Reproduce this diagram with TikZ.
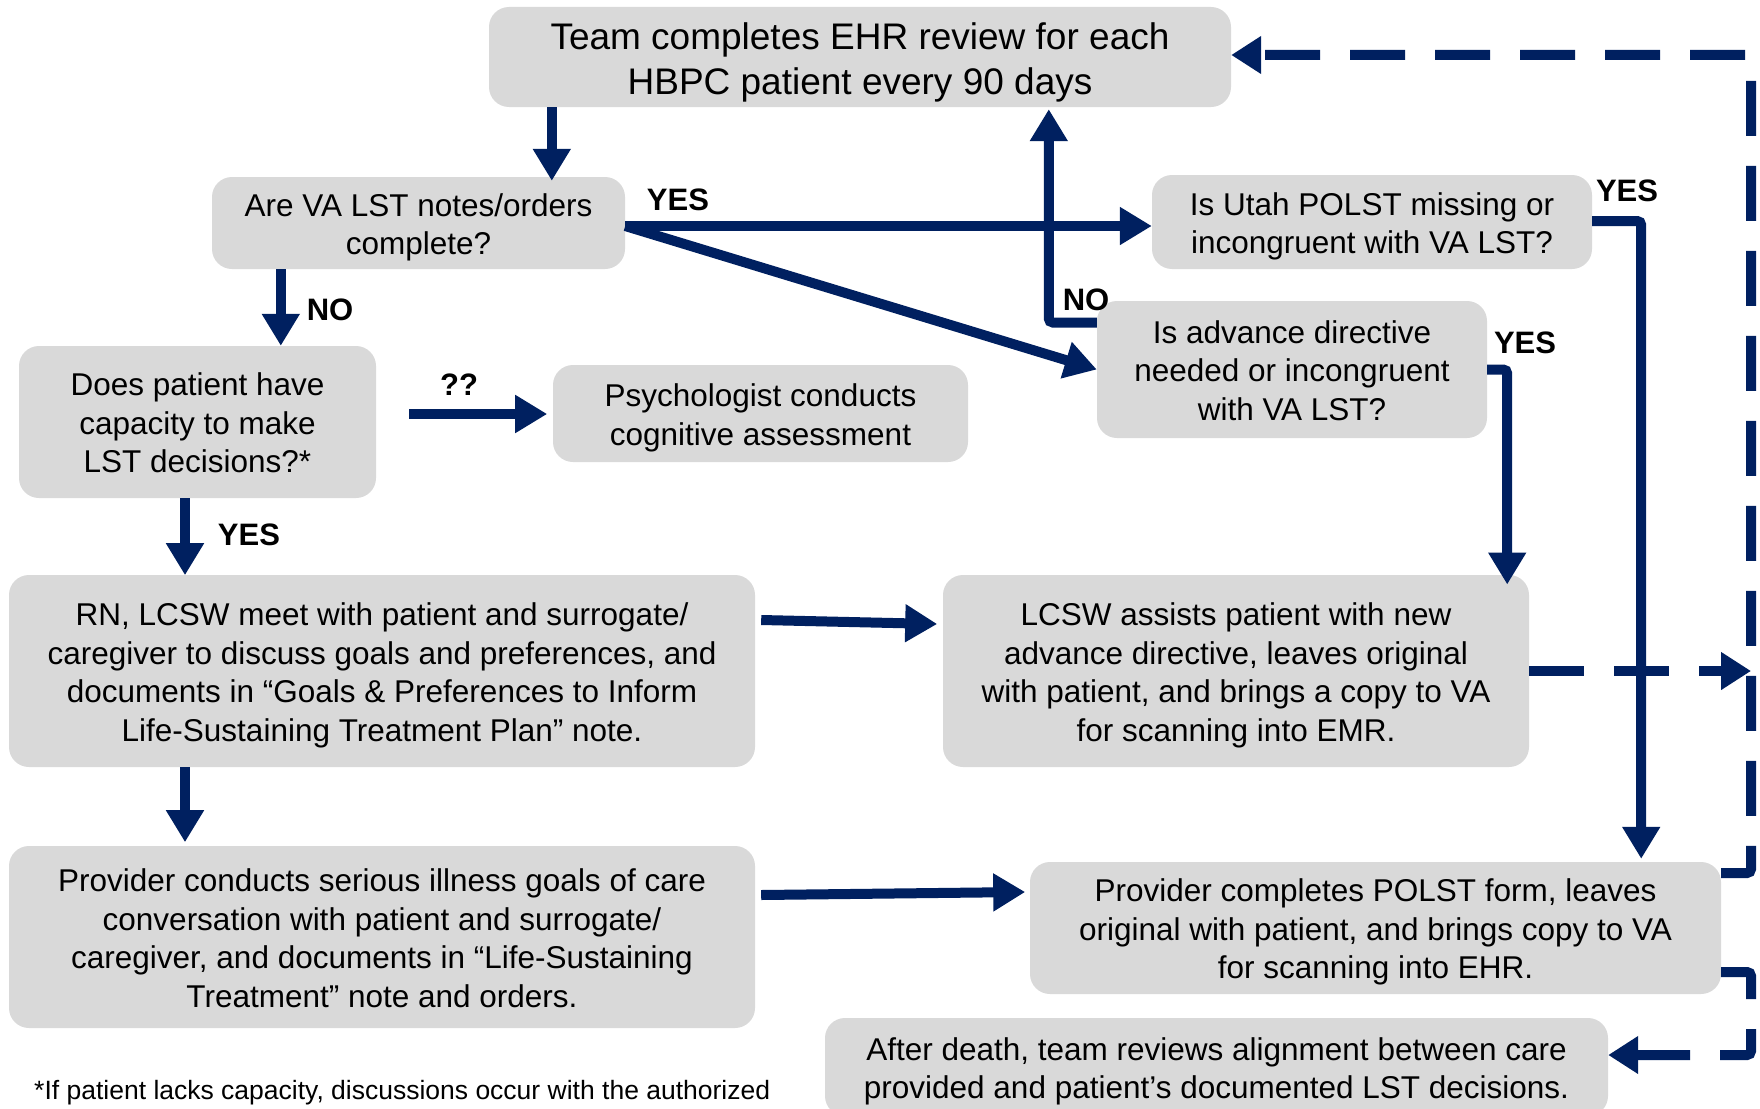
\documentclass[tikz,border=0pt]{standalone}
\usepackage{fontspec}
\setmainfont{Liberation Sans}
\usetikzlibrary{arrows.meta}
\definecolor{navy}{HTML}{002060}
\definecolor{boxgray}{HTML}{D9D9D9}
\newcommand\mytopst{\rule{0pt}{1em}}
\newcommand\mybotst{\rule[-0.21em]{0pt}{0pt}}
\tikzset{
  box/.style={fill=boxgray, rounded corners=20pt, inner sep=0pt, align=center,
    font=\fontsize{31.5}{38.5}\selectfont},
  arr/.style={draw=navy, line width=10pt, -{Triangle[width=36pt,length=32pt]}, rounded corners=4pt},
  darr/.style={draw=navy, line width=10pt, dash pattern=on 55pt off 30pt, -{Triangle[width=36pt,length=30pt]}, rounded corners=4pt},
  lbl/.style={font=\fontsize{31}{36}\selectfont\bfseries, inner sep=0pt},
}
\begin{document}
\begin{tikzpicture}[x=1pt, y=-1pt]
\useasboundingbox (0,0) rectangle (1760,1108);
\fill[white] (0,0) rectangle (1760,1108);
% boxes
\node[box, minimum width=742pt, minimum height=100pt, font=\fontsize{37}{45}\selectfont] (b1) at (860,57) {\mytopst Team completes EHR review for each\\HBPC patient every 90 days\mybotst};
\node[box, minimum width=413pt, minimum height=92pt] (b2) at (418.5,223) {\mytopst Are VA LST notes/orders\\complete?\mybotst};
\node[box, minimum width=440pt, minimum height=94pt] (b3) at (1372,222) {\mytopst Is Utah POLST missing or\\incongruent with VA LST?\mybotst};
\node[box, minimum width=357pt, minimum height=152pt] (b4) at (197.5,422) {\mytopst Does patient have\\capacity to make\\LST decisions?*\mybotst};
\node[box, minimum width=415pt, minimum height=97pt] (b5) at (760.5,413.5) {\mytopst Psychologist conducts\\cognitive assessment\mybotst};
\node[box, minimum width=390pt, minimum height=137pt] (b6) at (1292,369.5) {\mytopst Is advance directive\\needed or incongruent\\with VA LST?\mybotst};
\node[box, minimum width=746pt, minimum height=192pt] (b7) at (382,671) {\mytopst RN, LCSW meet with patient and surrogate/\\caregiver to discuss goals and preferences, and\\documents in “Goals \& Preferences to Inform\\Life-Sustaining Treatment Plan” note.\mybotst};
\node[box, minimum width=586pt, minimum height=192pt] (b8) at (1236,671) {\mytopst LCSW assists patient with new\\advance directive, leaves original\\with patient, and brings a copy to VA\\for scanning into EMR.\mybotst};
\node[box, minimum width=746pt, minimum height=182pt] (b9) at (382,937) {\mytopst Provider conducts serious illness goals of care\\conversation with patient and surrogate/\\caregiver, and documents in “Life-Sustaining\\Treatment” note and orders.\mybotst};
\node[box, minimum width=691pt, minimum height=132pt] (b10) at (1375.5,928) {\mytopst Provider completes POLST form, leaves\\original with patient, and brings copy to VA\\for scanning into EHR.\mybotst};
\node[box, minimum width=783pt, minimum height=98pt] (b11) at (1216.5,1067) {\mytopst After death, team reviews alignment between care\\provided and patient’s documented LST decisions.\mybotst};
\node[anchor=base west, inner sep=0pt, font=\fontsize{26.5}{30}\selectfont] (fn) at (34,1099) {*If patient lacks capacity, discussions occur with the authorized};
% labels
\node[lbl] (l1) at (330,310) {NO};
\node[lbl] (l2) at (678,200) {YES};
\node[lbl] (l3) at (1086,300) {NO};
\node[lbl] (l4) at (1627,191) {YES};
\node[lbl] (l5) at (1525,343) {YES};
\node[lbl] (l6) at (459,385) {??};
\node[lbl] (l7) at (249,535) {YES};
% solid connectors
\coordinate (p1) at ([xshift=63pt]b1.south west);
\draw[arr] (p1) -- ([yshift=-4pt]p1 |- b2.north);
\coordinate (p2) at ([xshift=69pt]b2.south west);
\draw[arr] (p2) -- (p2 |- b4.north);
\coordinate (p3) at ([yshift=-3pt]b2.east);
\draw[arr] (p3) -- (p3 -| b3.west);
\draw[arr] (p3) -- (b6.west);
\coordinate (p5) at ([yshift=47pt]b6.west);
\draw[arr] (p5) -- ++(-48,0) coordinate (q5) -- ([yshift=-2pt]q5 |- b1.south);
\coordinate (p6) at ([yshift=1pt]b3.east);
\draw[arr] (p6) -- ++(49,0) coordinate (q6) -- ([yshift=3pt]q6 |- b10.north);
\draw[arr] (b6.east) -- ++(20,0) -- ++(0,215);
\coordinate (p8) at ([xshift=33pt,yshift=8pt]b4.east);
\draw[arr] (p8) -- ++(138,0);
\draw[arr] ([xshift=-12.5pt]b4.south) -- ++(0,77);
\draw[arr] ([xshift=6pt,yshift=51pt]b7.east) -- ++(176,4);
\draw[arr] ([xshift=-197pt]b7.south) -- ++(0,75);
\draw[arr] ([xshift=6pt,yshift=42pt]b9.east) -- ++(264,-3);
% dashed connectors
\coordinate (rail) at (1751,55);
\draw[darr] (b8.east) -- (b8.east -| rail);
\coordinate (p10a) at ([yshift=55pt]b10.east);
\draw[darr] (p10a) -- (p10a -| rail) -- (rail) -- (rail -| b1.east);
\coordinate (p10b) at ([yshift=-44pt]b10.east);
\draw[darr] (p10b) -- (p10b -| rail) -- ++(0,83) coordinate (q10) -- (q10 -| b11.east);
\end{tikzpicture}
\end{document}
